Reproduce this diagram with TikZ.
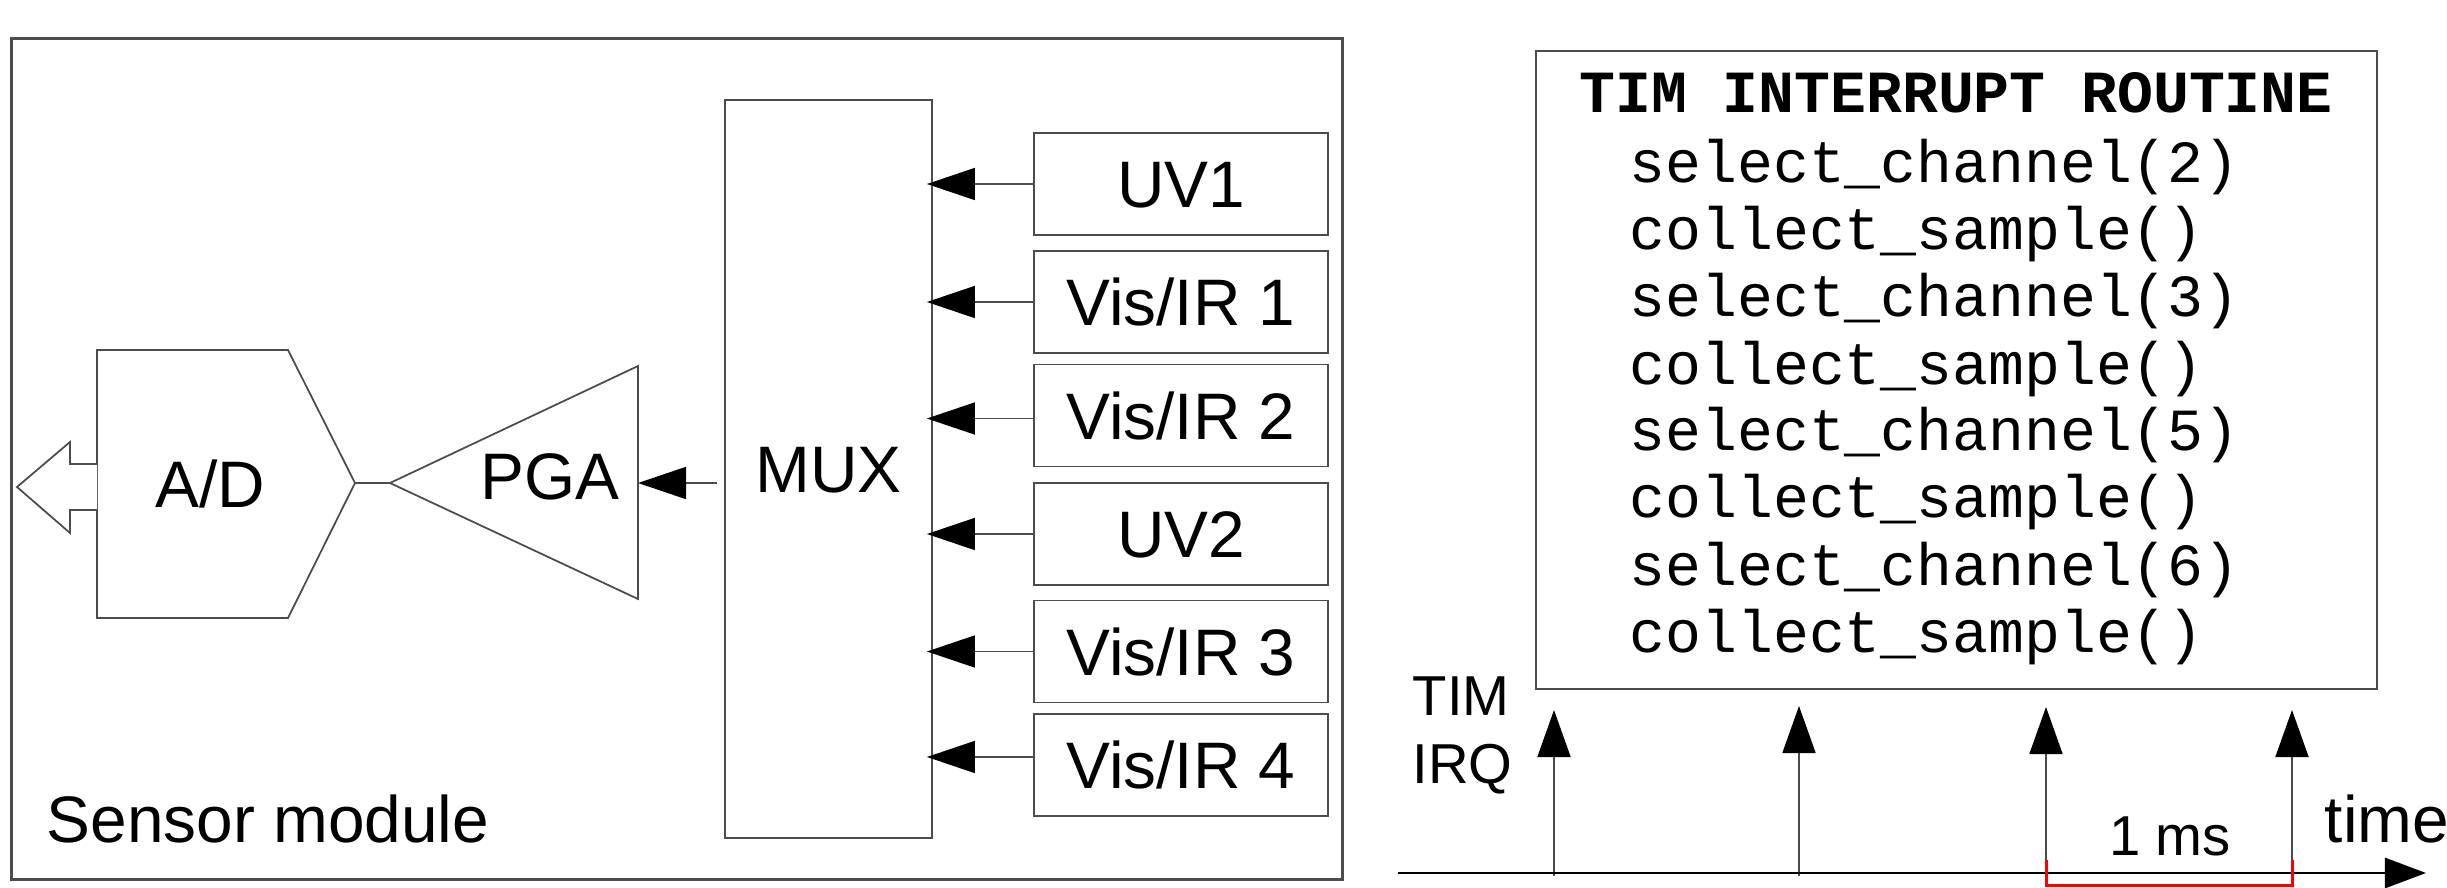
\documentclass[tikz,border=0pt]{standalone}
\usepackage{fontspec}
\setmainfont{Liberation Sans}
\setmonofont{Liberation Mono}
\usetikzlibrary{arrows.meta}
\newcommand\lblfont{\fontsize{18.7}{22}\selectfont}
\newcommand\smlfont{\fontsize{16}{19}\selectfont}
\newcommand\codefont{\ttfamily\fontsize{17}{20}\selectfont}
\begin{document}
\begin{tikzpicture}[x=0.01cm,y=-0.01cm,
  ln/.style={draw=black!70, line width=0.5pt},
  sbox/.style={ln, rectangle, minimum width=2.94cm, minimum height=1.02cm, inner sep=0pt,
    font=\lblfont, text height=13.4pt, text depth=0pt},
  lbl/.style={font=\lblfont, inner sep=0pt, anchor=base},
  sml/.style={font=\smlfont, inner sep=0pt, anchor=base},
  code/.style={font=\codefont, inner sep=0pt, anchor=base west},
  arr/.style={ln, -{Triangle[length=4.8mm,width=3.2mm,color=black]}},
  irq/.style={ln, -{Triangle[length=4.7mm,width=3.3mm,color=black]}}
]
\useasboundingbox (0,0) rectangle (2447,888);

% ---------- sensor module ----------
\node[draw=black!70, line width=0.8pt, minimum width=13.30cm, minimum height=8.40cm, inner sep=0pt] (sm) at (677,459) {};
\node[lbl, anchor=base west] (smlbl) at (46,842) {Sensor module};

% A/D converter
\coordinate (adL) at (97,484);
\coordinate (adR) at (355,483);
\draw[ln, fill=white] (97,350) -- (288,350) -- (adR) -- (288,618) -- (97,618) -- cycle;
\node[lbl] (ad) at (210,508) {A/D};
% hollow output arrow
\draw[ln, fill=white] (97,464) -- (70,464) -- (70,442) -- (17,487) -- (70,533) -- (70,510) -- (97,510);

% PGA
\coordinate (pgaL) at (390,483);
\coordinate (pgaR) at (638,483);
\draw[ln] (pgaL) -- (638,366) -- (638,599) -- cycle;
\node[lbl] (pga) at (550,500) {PGA};
\draw[ln] (adR) -- (pgaL);

% MUX
\node[ln, rectangle, minimum width=2.07cm, minimum height=7.38cm, inner sep=0pt,
  font=\lblfont, text height=13.4pt, text depth=0pt] (mux) at (828.5,469) {MUX};
\draw[arr, shorten <=0.07cm] (mux.west |- pgaR) -- (pgaR);

% sensors
\node[sbox] (uv1) at (1181,184) {UV1};
\node[sbox] (vis1) at (1181,302) {Vis/IR 1};
\node[sbox] (vis2) at (1181,415.5) {Vis/IR 2};
\node[sbox] (uv2) at (1181,534) {UV2};
\node[sbox] (vis3) at (1181,651.5) {Vis/IR 3};
\node[sbox] (vis4) at (1181,765) {Vis/IR 4};
\foreach \s/\d in {uv1/0, vis1/0, vis2/-0.03, uv2/0, vis3/0, vis4/0.08}
  \draw[arr, shorten >=-0.06cm] ([yshift=\d cm]\s.west) -- ([yshift=\d cm]\s.west -| mux.east);

% ---------- interrupt routine ----------
\node[ln, rectangle, minimum width=8.41cm, minimum height=6.38cm, inner sep=0pt] (rt) at (1956.5,370) {};
\node[font=\codefont\bfseries, inner sep=0pt, anchor=base] (title) at (1956,113) {TIM INTERRUPT ROUTINE};
\node[code] (c1) at (1629,183) {select\_channel(2)};
\node[code] (c2) at (1629,250) {collect\_sample()};
\node[code] (c3) at (1629,317) {select\_channel(3)};
\node[code] (c4) at (1629,384) {collect\_sample()};
\node[code] (c5) at (1629,451) {select\_channel(5)};
\node[code] (c6) at (1629,518) {collect\_sample()};
\node[code] (c7) at (1629,585) {select\_channel(6)};
\node[code] (c8) at (1629,652) {collect\_sample()};

% ---------- timing ----------
\node[sml, anchor=base west] (tim) at (1412,715) {TIM};
\node[sml, anchor=base west] (irqlbl) at (1412,783) {IRQ};
\foreach \i/\x/\t in {1/1554/710, 2/1799/706, 3/2046/707, 4/2292/710} {
  \coordinate (b\i) at (\x,876);
  \coordinate (a\i) at (\x,\t);
  \draw[irq] (b\i) -- (a\i);
}
\coordinate (t0) at (1398,873);
\coordinate (t1) at (2426,873);
\draw[line width=0.85pt, -{Triangle[length=4.1mm,width=3mm]}] (t0) -- (t1);
\node[lbl, anchor=base west] (time) at (2324,842) {time};
\draw[red, line width=0.03cm] (2046,860) -- (2046,885) -- (2292,885) -- (2292,860);
\node[sml] (ms) at (2170,855) {1 ms};
\end{tikzpicture}
\end{document}
